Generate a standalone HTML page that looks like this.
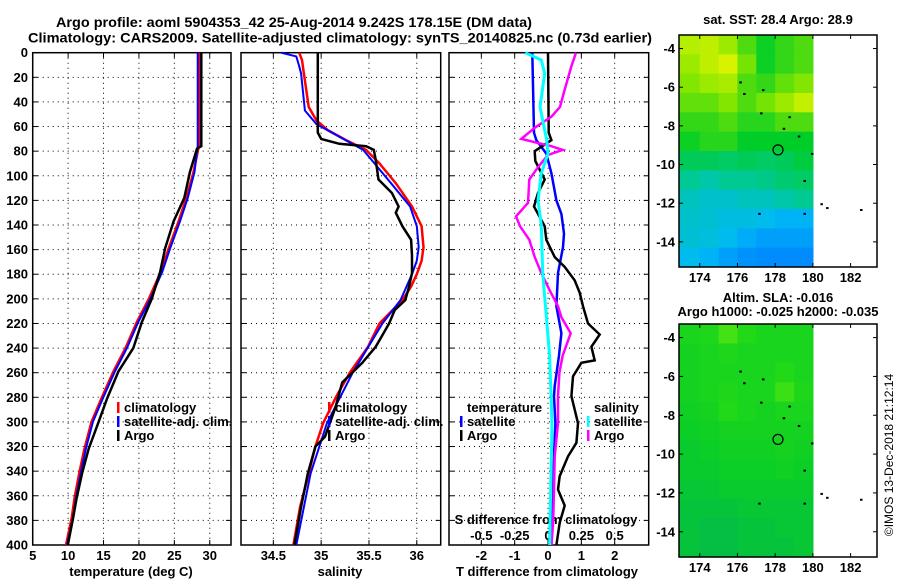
<!DOCTYPE html>
<html><head><meta charset="utf-8"><style>
html,body{margin:0;padding:0;background:#fff;}
svg text{font-family:"Liberation Sans",Arial,sans-serif;font-weight:bold;fill:#000;}
</style></head><body>
<svg id="c" width="900" height="580" viewBox="0 0 900 580" xmlns="http://www.w3.org/2000/svg">
<text x="56" y="27" font-size="14" text-anchor="start" textLength="476" lengthAdjust="spacingAndGlyphs">Argo profile: aoml 5904353_42 25-Aug-2014 9.242S 178.15E (DM data)</text>
<text x="28" y="42.5" font-size="14" text-anchor="start" textLength="624" lengthAdjust="spacingAndGlyphs">Climatology: CARS2009. Satellite-adjusted climatology: synTS_20140825.nc (0.73d earlier)</text>
<text x="778" y="24" font-size="13" text-anchor="middle">sat. SST: 28.4 Argo: 28.9</text>
<text x="778" y="302" font-size="13" text-anchor="middle">Altim. SLA: -0.016</text>
<text x="778" y="316" font-size="13" text-anchor="middle">Argo h1000: -0.025 h2000: -0.035</text>
<text transform="translate(893,455) rotate(-90)" font-size="12" text-anchor="middle" style="font-weight:normal">©IMOS 13-Dec-2018 21:12:14</text>
</svg>
<script>
// ---- profile data (depth in m) ----
const tDepthClim = [0,76,97,118,137,159,178,200,219,240,259,281,300,322,341,362,378,400];
const tClim      = [28.45,28.45,27.7,26.7,25.6,24.2,23.1,21.4,19.7,18.1,16.4,14.7,13.3,12.3,11.6,10.9,10.5,9.7];
const tSat       = [28.3,28.3,27.85,26.9,25.8,24.4,23.3,21.6,19.9,18.3,16.6,14.9,13.5,12.5,11.8,11.1,10.7,9.85];
const tDepthArgo = [0,76,78,97,118,137,159,178,200,219,240,259,281,300,322,341,362,378,400];
const tArgo      = [28.8,28.8,28.2,27.2,26.4,24.9,23.7,23.0,21.8,20.4,19.2,17.1,15.5,14.3,12.9,12.0,11.2,10.7,9.95];

const sDepthClim = [0,6,17,44,55,63,71,79,90,106,125,141,158,169,180,190,201,220,239,260,279,301,320,342,369,400];
const sClim      = [34.77,34.8,34.82,34.87,34.95,35.07,35.26,35.47,35.61,35.78,35.95,36.05,36.07,36.05,36.0,35.94,35.85,35.61,35.49,35.30,35.16,35.02,34.94,34.87,34.78,34.71];
const sDepthSat  = [0,3,11,17,47,58,79,106,125,141,158,169,180,201,220,260,301,342,400];
const sSat       = [34.58,34.74,34.77,34.79,34.83,34.95,35.44,35.73,35.93,36.0,36.02,36.0,35.95,35.83,35.64,35.33,35.06,34.89,34.74];
const sDepthArgo = [0,65,70,74,76,79,87,103,114,125,130,141,152,165,179,190,201,209,220,239,252,268,288,312,320,342,369,400];
const sArgo      = [34.965,34.965,35.0,35.19,35.47,35.55,35.57,35.6,35.74,35.81,35.78,35.85,35.94,35.95,35.95,35.92,35.88,35.77,35.71,35.57,35.43,35.22,35.15,35.04,34.94,34.86,34.79,34.72];

const dDepthT = [0,65,71,82,98,120,131,147,158,179,206,228,246,271,279,301,328,355,400];
const dTSat   = [-0.47,-0.42,-0.35,-0.05,0.1,0.25,0.4,0.48,0.45,0.3,0.25,0.4,0.33,0.2,0.18,0.22,0.18,0.15,0.1];
const dDepthA = [0,65,71,80,88,103,114,125,141,152,166,174,185,195,206,220,229,239,250,252,263,279,301,317,328,344,355,368,382,400];
const dTArgo  = [0,0.02,0.1,-0.4,-0.38,-0.1,-0.3,-0.42,-0.1,-0.05,0.2,0.5,0.8,0.95,1.05,1.2,1.55,1.3,1.4,1.0,0.75,0.7,0.9,0.85,0.6,0.35,0.3,0.5,0.35,0.25];
const dDepthS = [0,6,17,44,71,82,98,120,140,179,246,301,400];
const dSSat   = [-0.17,-0.05,-0.025,-0.06,-0.01,0,-0.05,-0.075,-0.05,-0.04,0.012,0.03,0.012];
const dDepthSA= [0,11,30,44,52,61,70,74,76,79,83,93,103,122,133,141,152,166,179,193,206,215,228,246,260,279,301,328,355,382,400];
const dSArgo  = [0.21,0.175,0.125,0.09,0.025,-0.1,-0.2,-0.05,0.025,0.11,0,-0.075,-0.14,-0.15,-0.24,-0.21,-0.14,-0.1,-0.05,0.012,0.075,0.1,0.17,0.11,0.085,0.075,0.075,0.05,0.045,0.038,0.025];

// ---- map data (rows from north -3.3 to south -15.3, cols lon 173..180) ----
const sstGrid = [
 [0.9,0.92,0.85,0.72,0.62,0.68,0.72],
 [0.85,0.92,0.97,0.78,0.62,0.68,0.72],
 [0.8,0.85,0.88,0.72,0.68,0.75,0.8],
 [0.75,0.75,0.8,0.72,0.78,0.85,0.93],
 [0.68,0.68,0.72,0.66,0.66,0.72,0.72],
 [0.62,0.66,0.66,0.6,0.6,0.6,0.6],
 [0.52,0.52,0.5,0.52,0.5,0.52,0.56],
 [0.42,0.38,0.42,0.42,0.44,0.48,0.5],
 [0.33,0.3,0.3,0.33,0.33,0.38,0.42],
 [0.3,0.28,0.25,0.25,0.22,0.18,0.18],
 [0.28,0.26,0.22,0.16,0.12,0.12,0.12],
 [0.22,0.18,0.12,0.08,0.06,0.06,0.06]];
const slaGrid = [
 [0.5,0.55,0.8,0.6,0.5,0.5,0.5],
 [0.45,0.5,0.55,0.5,0.5,0.5,0.5],
 [0.45,0.5,0.5,0.5,0.5,0.6,0.5],
 [0.45,0.5,0.55,0.5,0.5,0.75,0.55],
 [0.4,0.45,0.6,0.5,0.45,0.5,0.5],
 [0.35,0.4,0.45,0.45,0.45,0.45,0.45],
 [0.3,0.35,0.4,0.4,0.4,0.45,0.4],
 [0.3,0.3,0.35,0.35,0.35,0.4,0.35],
 [0.25,0.25,0.3,0.3,0.3,0.3,0.3],
 [0.2,0.2,0.2,0.25,0.25,0.25,0.25],
 [0.2,0.15,0.15,0.2,0.2,0.25,0.25],
 [0.2,0.15,0.15,0.2,0.2,0.2,0.25]];
const depthTicks = [0,20,40,60,80,100,120,140,160,180,200,220,240,260,280,300,320,340,360,380,400];
const tTicks = [5,10,15,20,25,30];
const sTicks = [34.5,35,35.5,36];
const dTTicks = [-2,-1,0,1,2];
const dSTicks = [-0.5,-0.25,0,0.25,0.5];
const lonTicks = [174,176,178,180,182];
const latTicks = [-4,-6,-8,-10,-12,-14];

const NS='http://www.w3.org/2000/svg';
const svg=document.getElementById('c');
const FS=13;
function mk(tag,attrs,parent){const e=document.createElementNS(NS,tag);for(const k in attrs)e.setAttribute(k,attrs[k]);(parent||svg).appendChild(e);return e;}
function txt(x,y,s,size,anchor,parent){const t=mk('text',{x:x,y:y,'font-size':size,'text-anchor':anchor||'middle'},parent);t.textContent=s;return t;}

const TOP=52.7,BOT=545;
const yD=d=>TOP+(d-0)*(BOT-TOP)/400;
function panel(name,x0,x1,xmin,xmax,xticks,ticklabelFn){
  const g=mk('g',{});
  
  
  const sx=v=>x0+(v-xmin)*(x1-x0)/(xmax-xmin);
  for(const d of depthTicks){ if(d>0&&d<400){const l=mk('line',{x1:x0,x2:x1,y1:yD(d),y2:yD(d),stroke:'#000','stroke-width':1,'stroke-dasharray':'1,4'},g);
    
    
    mk('line',{x1:x0,x2:x0+5,y1:yD(d),y2:yD(d),stroke:'#000'},g);mk('line',{x1:x1-5,x2:x1,y1:yD(d),y2:yD(d),stroke:'#000'},g);}}
  for(const v of xticks){const X=sx(v);const l=mk('line',{x1:X,x2:X,y1:TOP,y2:BOT,stroke:'#000','stroke-width':1,'stroke-dasharray':'1,4'},g);
    
    
    mk('line',{x1:X,x2:X,y1:BOT-5,y2:BOT,stroke:'#000'},g);mk('line',{x1:X,x2:X,y1:TOP,y2:TOP+5,stroke:'#000'},g);
    if(ticklabelFn){const t=txt(X,560,ticklabelFn(v),FS,'middle',g);
      
      }}
  const r=mk('rect',{x:x0,y:TOP,width:x1-x0,height:BOT-TOP,fill:'none',stroke:'#000','stroke-width':1.5},g);
  
  
  return {g,sx};
}
function line(p,vals,depths,color,w,name,scale){
  const pts=vals.map((v,i)=>p.sx(scale?v*scale:v).toFixed(1)+','+yD(depths[i]).toFixed(1)).join(' ');
  const pl=mk('polyline',{points:pts,fill:'none',stroke:color,'stroke-width':w},p.g);
  
  
}
function legendEntry(g,x,y,color,label){
  mk('rect',{x:x,y:y-10,width:2.5,height:11,fill:color},g);
  const t=txt(x+7,y,label,FS,'start',g);
  
  
}

// Panel 1
const p1=panel('temperature-panel',32.7,231,5,33,tTicks,v=>String(v));
for(const d of depthTicks){const t=txt(28,yD(d)+4.5,String(d),FS,'end',p1.g);
  
  }
line(p1,tClim,tDepthClim,'#f00',2.5,'temp-climatology-line');
line(p1,tSat,tDepthClim,'#00f',2,'temp-satellite-line');
line(p1,tArgo,tDepthArgo,'#000',2.5,'temp-argo-line');
legendEntry(p1.g,117,412,'#f00','climatology');
legendEntry(p1.g,117,426,'#00f','satellite-adj. clim.');
legendEntry(p1.g,117,440,'#000','Argo');
let t=txt(131,576,'temperature (deg C)',FS,'middle',p1.g);



// Panel 2
const p2=panel('salinity-panel',241,440.7,34.5-32.3/95.5,36.25,sTicks,v=>String(v));
line(p2,sClim,sDepthClim,'#f00',2.5,'sal-climatology-line');
line(p2,sSat,sDepthSat,'#00f',2,'sal-satellite-line');
line(p2,sArgo,sDepthArgo,'#000',2.5,'sal-argo-line');
legendEntry(p2.g,328,412,'#f00','climatology');
legendEntry(p2.g,328,426,'#00f','satellite-adj. clim.');
legendEntry(p2.g,328,440,'#000','Argo');
t=txt(340,576,'salinity',FS,'middle',p2.g);



// Panel 3
const p3=panel('difference-panel',449,648.7,-2.97,3.02,dTTicks,v=>String(v));
for(const v of dSTicks){const X=p3.sx(v*4);const tt=txt(X,540,String(v),FS,'middle',p3.g);
  
  }
t=txt(546,524,'S difference from climatology',FS,'middle',p3.g);


t=txt(547,576,'T difference from climatology',FS,'middle',p3.g);


line(p3,dTSat,dDepthT,'#00f',2.5,'tdiff-satellite-line');
line(p3,dTArgo,dDepthA,'#000',2.5,'tdiff-argo-line');
line(p3,dSArgo,dDepthSA,'#f0f',2.5,'sdiff-argo-line',4);
line(p3,dSSat,dDepthS,'#0ff',3,'sdiff-satellite-line',4);
t=txt(467,412,'temperature',FS,'start',p3.g);


legendEntry(p3.g,460,426,'#00f','satellite');
legendEntry(p3.g,460,440,'#000','Argo');
t=txt(594,412,'salinity',FS,'start',p3.g);


legendEntry(p3.g,587,426,'#0ff','satellite');
legendEntry(p3.g,587,440,'#f0f','Argo');

// Maps
function lerpCol(stops,v){v=Math.max(0,Math.min(1,v));const n=stops.length-1;const i=Math.min(n-1,Math.floor(v*n));const f=v*n-i;
  const a=stops[i],b=stops[i+1];return 'rgb('+[0,1,2].map(k=>Math.round(a[k]+(b[k]-a[k])*f)).join(',')+')';}
const sstStops=[[0,120,255],[0,185,245],[0,200,160],[0,205,40],[130,230,0],[230,245,0]];
const slaStops=[[0,180,90],[10,205,40],[40,220,20],[110,235,20]];
function map(name,top,bot,grid,stops){
  const g=mk('g',{});
  
  
  const L=679,R=877,lonMin=172.9,lonMax=183.4,latTop=-3.3,latBot=-15.3;
  const sx=v=>L+(v-lonMin)*(R-L)/(lonMax-lonMin);
  const sy=v=>top+(latTop-v)*(bot-top)/(latTop-latBot);
  grid.forEach((row,ri)=>row.forEach((v,ci)=>{
    const x0=ci===0?L:sx(173+ci),x1=sx(174+ci),y0=sy(latTop-ri),y1=sy(latTop-ri-1);
    const c=mk('rect',{x:x0,y:y0,width:(x1-x0)+0.6,height:y1-y0+0.6,fill:lerpCol(stops,v)},g);
    
    
  }));
  [[176.1,-5.7],[176.3,-6.3],[177.3,-6.1],[177.2,-7.3],[178.7,-7.5],[178.4,-8.1],[179.2,-8.5],[179.9,-9.4],[179.5,-10.8],[177.1,-12.5],[179.5,-12.5],[180.4,-12],[180.7,-12.2],[182.5,-12.3]].forEach(p=>{
    const s=mk('rect',{x:sx(p[0]),y:sy(p[1]),width:2.5,height:2,fill:'#000'},g);
    
    });
  const c=mk('circle',{cx:sx(178.15),cy:sy(-9.242),r:5,fill:'none',stroke:'#000','stroke-width':1.2},g);
  
  
  const fr=mk('rect',{x:L,y:top,width:R-L,height:bot-top,fill:'none',stroke:'#000','stroke-width':1.5},g);
  
  
  for(const v of lonTicks){const X=sx(v);mk('line',{x1:X,x2:X,y1:bot-4,y2:bot,stroke:'#000'},g);mk('line',{x1:X,x2:X,y1:top,y2:top+4,stroke:'#000'},g);
    const tl=txt(X,bot+15,String(v),FS,'middle',g);
    
    }
  for(const v of latTicks){const Y=sy(v);mk('line',{x1:L,x2:L+4,y1:Y,y2:Y,stroke:'#000'},g);mk('line',{x1:R-4,x2:R,y1:Y,y2:Y,stroke:'#000'},g);
    const tl=txt(675,Y+4.5,String(v),FS,'end',g);
    
    }
}
map('sst-map',35,267,sstGrid,sstStops);
map('sla-map',324,557,slaGrid,slaStops);
</script>
</body></html>
